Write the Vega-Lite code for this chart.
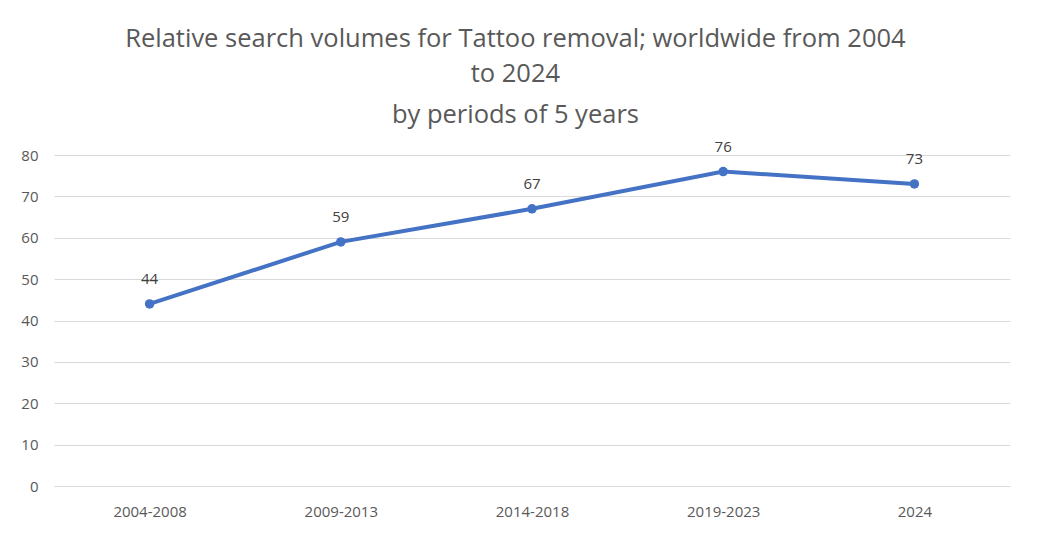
{
  "$schema": "https://vega.github.io/schema/vega-lite/v6.json",
  "autosize": {"type": "fit", "contains": "padding"},
  "width": 1038,
  "height": 535,
  "padding": {"top": 35, "left": 20, "right": 28, "bottom": 16},
  "background": "white",
  "title": {
    "text": ["Relative search volumes for Tattoo removal; worldwide from 2004", "to 2024"],
    "subtitle": "by periods of 5 years",
    "anchor": "middle",
    "frame": "bounds",
    "font": "Open Sans",
    "fontSize": 25.5,
    "fontWeight": "normal",
    "color": "#595959",
    "lineHeight": 35,
    "subtitleFont": "Open Sans",
    "subtitleFontSize": 25.5,
    "subtitleColor": "#595959",
    "subtitleLineHeight": 31,
    "subtitlePadding": 16,
    "offset": 11
  },
  "data": {
    "values": [
      {"period": "2004-2008", "value": 44},
      {"period": "2009-2013", "value": 59},
      {"period": "2014-2018", "value": 67},
      {"period": "2019-2023", "value": 76},
      {"period": "2024", "value": 73}
    ]
  },
  "encoding": {
    "x": {
      "field": "period",
      "type": "nominal",
      "sort": null,
      "title": null,
      "axis": {
        "labelAngle": 0,
        "domain": false,
        "ticks": false,
        "grid": false,
        "labelFont": "Open Sans",
        "labelFontSize": 15,
        "labelColor": "#595959",
        "labelPadding": 18
      }
    },
    "y": {
      "field": "value",
      "type": "quantitative",
      "title": null,
      "scale": {"domain": [0, 80], "nice": false},
      "axis": {
        "values": [0, 10, 20, 30, 40, 50, 60, 70, 80],
        "domain": false,
        "ticks": false,
        "gridColor": "#d9d9d9",
        "gridWidth": 1,
        "labelFont": "Open Sans",
        "labelFontSize": 15,
        "labelColor": "#595959",
        "labelPadding": 16
      }
    }
  },
  "layer": [
    {
      "mark": {"type": "line", "color": "#4472C4", "strokeWidth": 4, "point": {"filled": true, "size": 90, "color": "#4472C4"}}
    },
    {
      "mark": {"type": "text", "dy": -25, "font": "Open Sans", "fontSize": 15, "color": "#404040"},
      "encoding": {"text": {"field": "value", "type": "quantitative"}}
    }
  ],
  "config": {"view": {"stroke": null}}
}
